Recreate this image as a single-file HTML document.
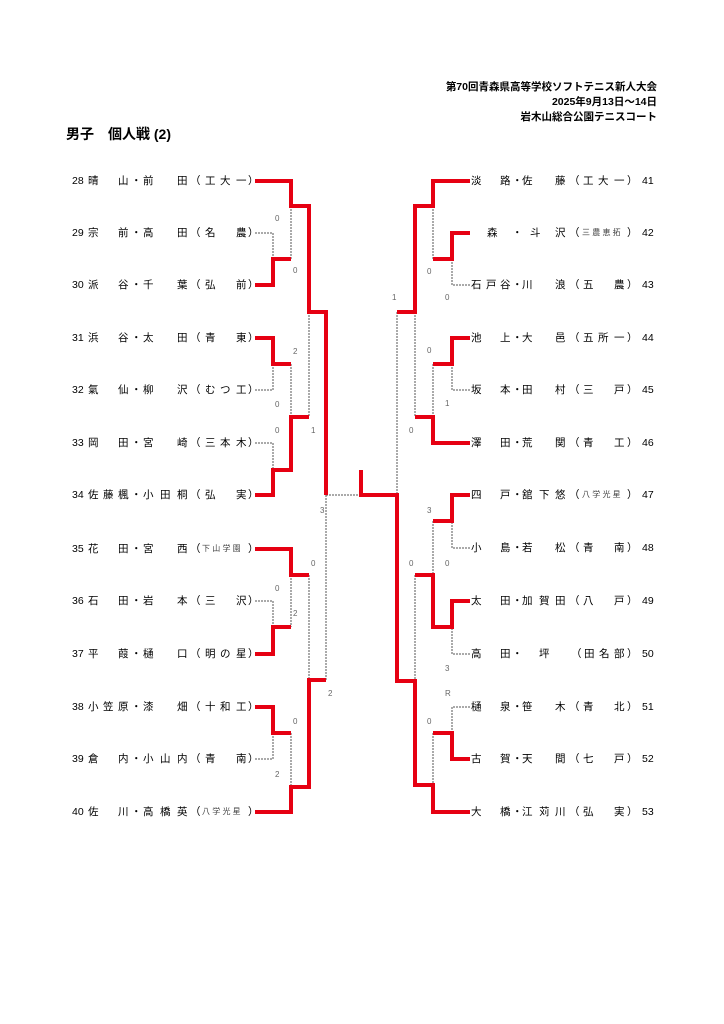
<!DOCTYPE html>
<html><head><meta charset="utf-8"><style>
body{margin:0;width:724px;height:1024px;background:#fff;position:relative;overflow:hidden;font-family:"Liberation Sans","Noto Sans CJK JP",sans-serif;color:#000}
.h{position:absolute;right:67px;font-size:10.5px;font-weight:bold;white-space:nowrap}
.r{position:absolute;left:0;width:724px;height:14px;line-height:14px;font-size:10.5px}
.r span{position:absolute;top:0;white-space:nowrap}
.sm{font-size:8px;color:#444}
svg{position:absolute;left:0;top:0}
</style></head><body>
<div class="h" style="top:79px">第70回青森県高等学校ソフトテニス新人大会</div>
<div class="h" style="top:94px">2025年9月13日～14日</div>
<div class="h" style="top:109px">岩木山総合公園テニスコート</div>
<div style="position:absolute;left:66px;top:124px;font-size:14px;font-weight:bold;white-space:nowrap">男子　個人戦 (2)</div>

<!-- left rows -->
<div class="r" style="top:174px"><span style="left:72px">28</span><span style="left:88px">晴</span><span style="left:118px">山</span><span style="left:131px">・</span><span style="left:143px">前</span><span style="left:177px">田</span><span style="left:190px">（</span><span style="left:205px">工</span><span style="left:220px">大</span><span style="left:236px">一</span><span style="left:248px">）</span></div>
<div class="r" style="top:226px"><span style="left:72px">29</span><span style="left:88px">宗</span><span style="left:118px">前</span><span style="left:131px">・</span><span style="left:143px">高</span><span style="left:177px">田</span><span style="left:190px">（</span><span style="left:205px">名</span><span style="left:236px">農</span><span style="left:248px">）</span></div>
<div class="r" style="top:278px"><span style="left:72px">30</span><span style="left:88px">派</span><span style="left:118px">谷</span><span style="left:131px">・</span><span style="left:143px">千</span><span style="left:177px">葉</span><span style="left:190px">（</span><span style="left:205px">弘</span><span style="left:236px">前</span><span style="left:248px">）</span></div>
<div class="r" style="top:331px"><span style="left:72px">31</span><span style="left:88px">浜</span><span style="left:118px">谷</span><span style="left:131px">・</span><span style="left:143px">太</span><span style="left:177px">田</span><span style="left:190px">（</span><span style="left:205px">青</span><span style="left:236px">東</span><span style="left:248px">）</span></div>
<div class="r" style="top:383px"><span style="left:72px">32</span><span style="left:88px">氣</span><span style="left:118px">仙</span><span style="left:131px">・</span><span style="left:143px">柳</span><span style="left:177px">沢</span><span style="left:190px">（</span><span style="left:205px">む</span><span style="left:220px">つ</span><span style="left:236px">工</span><span style="left:248px">）</span></div>
<div class="r" style="top:436px"><span style="left:72px">33</span><span style="left:88px">岡</span><span style="left:118px">田</span><span style="left:131px">・</span><span style="left:143px">宮</span><span style="left:177px">崎</span><span style="left:190px">（</span><span style="left:205px">三</span><span style="left:220px">本</span><span style="left:236px">木</span><span style="left:248px">）</span></div>
<div class="r" style="top:488px"><span style="left:72px">34</span><span style="left:88px">佐</span><span style="left:103px">藤</span><span style="left:118px">楓</span><span style="left:131px">・</span><span style="left:143px">小</span><span style="left:160px">田</span><span style="left:177px">桐</span><span style="left:190px">（</span><span style="left:205px">弘</span><span style="left:236px">実</span><span style="left:248px">）</span></div>
<div class="r" style="top:542px"><span style="left:72px">35</span><span style="left:88px">花</span><span style="left:118px">田</span><span style="left:131px">・</span><span style="left:143px">宮</span><span style="left:177px">西</span><span style="left:190px">（</span><span class="sm" style="left:202px">下 山 学 園</span><span style="left:248px">）</span></div>
<div class="r" style="top:594px"><span style="left:72px">36</span><span style="left:88px">石</span><span style="left:118px">田</span><span style="left:131px">・</span><span style="left:143px">岩</span><span style="left:177px">本</span><span style="left:190px">（</span><span style="left:205px">三</span><span style="left:236px">沢</span><span style="left:248px">）</span></div>
<div class="r" style="top:647px"><span style="left:72px">37</span><span style="left:88px">平</span><span style="left:118px">葭</span><span style="left:131px">・</span><span style="left:143px">樋</span><span style="left:177px">口</span><span style="left:190px">（</span><span style="left:205px">明</span><span style="left:220px">の</span><span style="left:236px">星</span><span style="left:248px">）</span></div>
<div class="r" style="top:700px"><span style="left:72px">38</span><span style="left:88px">小</span><span style="left:103px">笠</span><span style="left:118px">原</span><span style="left:131px">・</span><span style="left:143px">漆</span><span style="left:177px">畑</span><span style="left:190px">（</span><span style="left:205px">十</span><span style="left:220px">和</span><span style="left:236px">工</span><span style="left:248px">）</span></div>
<div class="r" style="top:752px"><span style="left:72px">39</span><span style="left:88px">倉</span><span style="left:118px">内</span><span style="left:131px">・</span><span style="left:143px">小</span><span style="left:160px">山</span><span style="left:177px">内</span><span style="left:190px">（</span><span style="left:205px">青</span><span style="left:236px">南</span><span style="left:248px">）</span></div>
<div class="r" style="top:805px"><span style="left:72px">40</span><span style="left:88px">佐</span><span style="left:118px">川</span><span style="left:131px">・</span><span style="left:143px">高</span><span style="left:160px">橋</span><span style="left:177px">英</span><span style="left:190px">（</span><span class="sm" style="left:202px">八 学 光 星</span><span style="left:248px">）</span></div>

<!-- right rows -->
<div class="r" style="top:174px"><span style="left:471px">淡</span><span style="left:500px">路</span><span style="left:512px">・</span><span style="left:522px">佐</span><span style="left:555px">藤</span><span style="left:569px">（</span><span style="left:583px">工</span><span style="left:598px">大</span><span style="left:614px">一</span><span style="left:627px">）</span><span style="left:642px">41</span></div>
<div class="r" style="top:226px"><span style="left:487px">森</span><span style="left:512px">・</span><span style="left:530px">斗</span><span style="left:555px">沢</span><span style="left:569px">（</span><span class="sm" style="left:582px">三 農 恵 拓</span><span style="left:627px">）</span><span style="left:642px">42</span></div>
<div class="r" style="top:278px"><span style="left:471px">石</span><span style="left:486px">戸</span><span style="left:500px">谷</span><span style="left:512px">・</span><span style="left:522px">川</span><span style="left:555px">浪</span><span style="left:569px">（</span><span style="left:583px">五</span><span style="left:614px">農</span><span style="left:627px">）</span><span style="left:642px">43</span></div>
<div class="r" style="top:331px"><span style="left:471px">池</span><span style="left:500px">上</span><span style="left:512px">・</span><span style="left:522px">大</span><span style="left:555px">邑</span><span style="left:569px">（</span><span style="left:583px">五</span><span style="left:598px">所</span><span style="left:614px">一</span><span style="left:627px">）</span><span style="left:642px">44</span></div>
<div class="r" style="top:383px"><span style="left:471px">坂</span><span style="left:500px">本</span><span style="left:512px">・</span><span style="left:522px">田</span><span style="left:555px">村</span><span style="left:569px">（</span><span style="left:583px">三</span><span style="left:614px">戸</span><span style="left:627px">）</span><span style="left:642px">45</span></div>
<div class="r" style="top:436px"><span style="left:471px">澤</span><span style="left:500px">田</span><span style="left:512px">・</span><span style="left:522px">荒</span><span style="left:555px">関</span><span style="left:569px">（</span><span style="left:583px">青</span><span style="left:614px">工</span><span style="left:627px">）</span><span style="left:642px">46</span></div>
<div class="r" style="top:488px"><span style="left:471px">四</span><span style="left:500px">戸</span><span style="left:512px">・</span><span style="left:522px">舘</span><span style="left:539px">下</span><span style="left:555px">悠</span><span style="left:569px">（</span><span class="sm" style="left:582px">八 学 光 星</span><span style="left:627px">）</span><span style="left:642px">47</span></div>
<div class="r" style="top:541px"><span style="left:471px">小</span><span style="left:500px">島</span><span style="left:512px">・</span><span style="left:522px">若</span><span style="left:555px">松</span><span style="left:569px">（</span><span style="left:583px">青</span><span style="left:614px">南</span><span style="left:627px">）</span><span style="left:642px">48</span></div>
<div class="r" style="top:594px"><span style="left:471px">太</span><span style="left:500px">田</span><span style="left:512px">・</span><span style="left:522px">加</span><span style="left:539px">賀</span><span style="left:555px">田</span><span style="left:569px">（</span><span style="left:583px">八</span><span style="left:614px">戸</span><span style="left:627px">）</span><span style="left:642px">49</span></div>
<div class="r" style="top:647px"><span style="left:471px">高</span><span style="left:500px">田</span><span style="left:512px">・</span><span style="left:539px">坪</span><span style="left:571px">（</span><span style="left:584px">田</span><span style="left:599px">名</span><span style="left:614px">部</span><span style="left:627px">）</span><span style="left:642px">50</span></div>
<div class="r" style="top:700px"><span style="left:471px">樋</span><span style="left:500px">泉</span><span style="left:512px">・</span><span style="left:522px">笹</span><span style="left:555px">木</span><span style="left:569px">（</span><span style="left:583px">青</span><span style="left:614px">北</span><span style="left:627px">）</span><span style="left:642px">51</span></div>
<div class="r" style="top:752px"><span style="left:471px">古</span><span style="left:500px">賀</span><span style="left:512px">・</span><span style="left:522px">天</span><span style="left:555px">間</span><span style="left:569px">（</span><span style="left:583px">七</span><span style="left:614px">戸</span><span style="left:627px">）</span><span style="left:642px">52</span></div>
<div class="r" style="top:805px"><span style="left:471px">大</span><span style="left:500px">橋</span><span style="left:512px">・</span><span style="left:522px">江</span><span style="left:539px">苅</span><span style="left:555px">川</span><span style="left:569px">（</span><span style="left:583px">弘</span><span style="left:614px">実</span><span style="left:627px">）</span><span style="left:642px">53</span></div>

<svg width="724" height="1024" viewBox="0 0 724 1024">
<g fill="none" stroke="#555" stroke-width="1" stroke-dasharray="2,1">
<path d="M255 233H273V259M291 206V259M309 312V417M255 390H273V364M291 364V417M255 443H273V470M326 495H361M326 495V680M255 601H273V627M291 575V627M309 575V680M255 759H273V733M291 733V787"/>
<path d="M470 285H452V259M433 206V259M470 390H452V364M433 364V417M415 312V417M397 312V495M470 548H452V521M433 521V575M470 654H452V627M415 575V681M470 707H452V733M433 733V785"/>
</g>
<g fill="none" stroke="#e60012" stroke-width="4" stroke-linejoin="miter" stroke-linecap="butt">
<path d="M255 181H291V206H309V312H326V495"/>
<path d="M255 285H273V259H291"/>
<path d="M255 338H273V364H291"/>
<path d="M255 495H273V470H291V417H309"/>
<path d="M255 549H291V575H309"/>
<path d="M255 654H273V627H291"/>
<path d="M255 707H273V733H291"/>
<path d="M255 812H291V787H309V680H326"/>
<path d="M470 181H433V206H415V312H397"/>
<path d="M470 233H452V259H433"/>
<path d="M470 338H452V364H433"/>
<path d="M470 443H433V417H415"/>
<path d="M470 495H452V521H433"/>
<path d="M470 601H452V627H433V575H415"/>
<path d="M470 759H452V733H433"/>
<path d="M470 812H433V785H415V681H397V495H361V470"/>
</g>
<g font-family="Liberation Sans, sans-serif" font-size="8" fill="#666">
<text x="275" y="221">0</text><text x="293" y="273">0</text>
<text x="293" y="354">2</text><text x="275" y="407">0</text><text x="275" y="433">0</text><text x="311" y="433">1</text>
<text x="320" y="513">3</text>
<text x="311" y="566">0</text><text x="275" y="591">0</text><text x="293" y="616">2</text>
<text x="328" y="696">2</text><text x="293" y="724">0</text><text x="275" y="777">2</text>
<text x="427" y="274">0</text><text x="445" y="300">0</text><text x="392" y="300">1</text>
<text x="427" y="353">0</text><text x="445" y="406">1</text><text x="409" y="433">0</text>
<text x="427" y="513">3</text><text x="409" y="566">0</text><text x="445" y="566">0</text>
<text x="445" y="671">3</text><text x="445" y="696">R</text><text x="427" y="724">0</text>
</g>
</svg>
</body></html>
